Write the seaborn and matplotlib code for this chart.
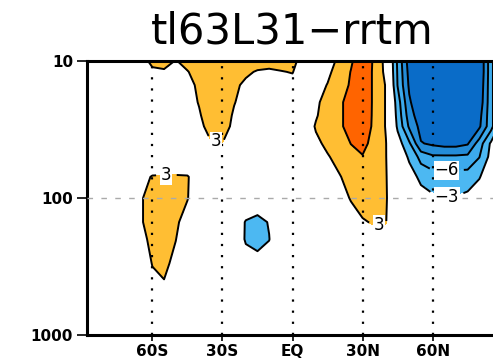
import numpy as np
import matplotlib
matplotlib.use("Agg")
import matplotlib.pyplot as plt
from matplotlib.ticker import NullLocator
import seaborn as sns

# zonal-mean difference (tl63L31 minus rrtm)
lats = [-90, -85, -80, -75, -70, -65, -60, -55, -50, -45, -40, -35, -30,
        -25, -20, -15, -10, -5, 0, 5, 10, 15, 20, 25, 30, 35, 40, 45, 50,
        55, 60, 65, 70, 75, 80, 85, 90]
levs = [10, 12, 15, 20, 25, 30, 40, 50, 70, 100, 150, 200, 300, 400, 500, 700, 1000]

diff = [
    [0, 0, 0, 0.5, 1, 2, 3.6, 3.8, 2.9, 3.6, 4.5, 5, 5, 4.5, 4.2, 4, 3.9, 3.8, 3.6, 2, 1, 2, 3.5, 5.6, 8, 5.6, 2, -6.5, -13.5, -16, -18, -19, -19, -18, -15, -7, -1],
    [0, 0, 0, 0.5, 1, 1, 2.5, 2.7, 2.5, 2.9, 3.8, 4.5, 4.8, 4, 3.4, 2.8, 2.6, 2.9, 3.1, 1.5, 1.5, 2.5, 4, 6.1, 8, 5.5, 2.2, -6.3, -13, -16, -18, -19, -19, -18, -15, -7, -1],
    [0, 0, 0, 0, 0.5, 1, 1.5, 2, 2, 2.5, 3.3, 4.3, 4.6, 3.5, 2.5, 2.2, 2, 2, 2.2, 1.5, 2, 3.1, 4.8, 6.3, 8, 5.5, 2.8, -6.1, -12.5, -15.5, -17.5, -18.5, -18.5, -17.5, -14.5, -7, -1],
    [0, 0, 0, 0, 0, 0.5, 1, 1.5, 1.8, 2.3, 3.1, 4.2, 4.5, 3.1, 2.2, 2, 1.8, 1.5, 1.5, 1, 2.5, 4, 5.5, 7, 8, 5.5, 2.8, -4.5, -11.5, -15, -17, -18, -18, -17, -14, -7, -1],
    [0, 0, 0, 0, 0, 0.5, 1, 1, 1.5, 2, 2.8, 4, 4.2, 2.7, 2, 1.5, 1.5, 1.5, 1.5, 1.5, 2.8, 4, 5.5, 7, 7.8, 5.5, 2.8, -4, -10.5, -14, -16, -17, -17, -16, -13, -7, -1],
    [0, 0, 0, 0, 0, 0, 0.5, 1, 1, 1.5, 2.5, 3.7, 3.9, 2.5, 1.5, 1, 1, 1, 1, 1.5, 3.2, 4, 5.5, 7, 7.5, 5.5, 2.8, -3.5, -9.5, -13, -15, -16, -16, -15, -12.5, -7, -1],
    [0, 0, 0, 0, 0, 0, 0.5, 0.5, 1, 1, 1.5, 2.8, 2.95, 2, 1, 0.5, 0.5, 0.5, 0.5, 1, 2.5, 3.5, 4.5, 6.05, 7, 4.8, 3.1, -1.5, -5.5, -11.8, -12.5, -13, -13, -12.3, -7.5, -2.5, 0],
    [0, 0, 0, 0, 0, 0.5, 0.5, 0.5, 0.5, 0.5, 1, 2, 2, 1.5, 0.5, 0, 0, 0, 0, 0.5, 1.5, 2.8, 3.8, 5, 5.8, 4.5, 3.1, -0.5, -3.5, -7, -8.5, -8.5, -8.5, -8.3, -6.1, -2, 0],
    [0, 0, 0, 0, 0.5, 2, 3.2, 3.3, 3.3, 3.2, 1.5, 1, 1, 0.5, 0, 0, 0, 0, 0, 0, 0.5, 1.5, 2.8, 4, 4.5, 4.2, 3.2, 0, -1.5, -3.8, -4.5, -4.6, -4.6, -4.5, -3.2, -1, 0],
    [0, 0, 0, 0, 1, 2.8, 3.8, 4, 3.8, 3.1, 1.5, 0.5, 0, 0, 0, -1, -0.5, 0, 0, 0, 0, 0.5, 1.8, 3.2, 3.8, 4, 3.3, 0, -0.5, -1.5, -2.5, -2.9, -2.8, -2.2, -1, 0, 0],
    [0, 0, 0, 0, 1, 2.8, 3.8, 4, 3.4, 2, 1, 0.5, 0, 0, -3.3, -4, -2.8, 0, 0, 0, 0, 0, 0.5, 1.5, 2.8, 3.2, 3.1, 0, 0, 0, 0, 0, 0, 0, 0, 0, 0],
    [0, 0, 0, 0, 0.5, 2.4, 3.5, 3.8, 3.05, 1.5, 0.5, 0, 0, 0, -3.4, -4.2, -3.1, 0, 0, 0, 0, 0, 0, 0.5, 1.5, 2, 2, 0, 0, 0, 0, 0, 0, 0, 0, 0, 0],
    [0, 0, 0, 0, 0, 1.5, 3.1, 3.6, 2.3, 1, 0, 0, 0, 0, -1, -1.5, -1, 0, 0, 0, 0, 0, 0, 0, 0, 0, 0, 0, 0, 0, 0, 0, 0, 0, 0, 0, 0],
    [0, 0, 0, 0, 0, 1, 2.5, 2.95, 2, 0.5, 0, 0, 0, 0, 0, 0, 0, 0, 0, 0, 0, 0, 0, 0, 0, 0, 0, 0, 0, 0, 0, 0, 0, 0, 0, 0, 0],
    [0, 0, 0, 0, 0, 0.5, 1, 1.5, 1, 0, 0, 0, 0, 0, 0, 0, 0, 0, 0, 0, 0, 0, 0, 0, 0, 0, 0, 0, 0, 0, 0, 0, 0, 0, 0, 0, 0],
    [0, 0, 0, 0, 0, 0, 0, 0, 0, 0, 0, 0, 0, 0, 0, 0, 0, 0, 0, 0, 0, 0, 0, 0, 0, 0, 0, 0, 0, 0, 0, 0, 0, 0, 0, 0, 0],
    [0, 0, 0, 0, 0, 0, 0, 0, 0, 0, 0, 0, 0, 0, 0, 0, 0, 0, 0, 0, 0, 0, 0, 0, 0, 0, 0, 0, 0, 0, 0, 0, 0, 0, 0, 0, 0],
]

fill_levels = [-40, -12, -9, -6, -3, 3, 6, 40]
fill_hex = ["#0a6cc8", "#248cd8", "#3caaec", "#4cb8f2", "#ffffff", "#ffbe33", "#ff6400"]
plain_lines = [-12, -9, 6]
labelled_neg = [-6, -3]
labelled_pos = [3]

xtick_vals = [-60, -30, 0, 30, 60]
xtick_text = ["60S", "30S", "EQ", "30N", "60N"]
ytick_vals = [10, 100, 1000]
ytick_text = ["10", "100", "1000"]
title = "tl63L31\u2212rrtm"

sns.set_theme(style="ticks")
plt.rcParams["font.family"] = ["DejaVu Sans"]
plt.rcParams["text.color"] = "black"
plt.rcParams["xtick.color"] = "black"
plt.rcParams["ytick.color"] = "black"

fig = plt.figure(figsize=(4.93, 3.6), dpi=100)
ax = fig.add_axes([87 / 493, 25 / 360, 411 / 493, 274 / 360])

X, P = np.meshgrid(lats, levs)
Z = np.array(diff)

ax.contourf(X, P, Z, levels=fill_levels, colors=sns.color_palette(fill_hex), zorder=1)
line_kw = dict(colors="black", linewidths=1.4, linestyles="solid", zorder=2)
ax.contour(X, P, Z, levels=plain_lines, **line_kw)
cs_neg = ax.contour(X, P, Z, levels=labelled_neg, **line_kw)
cs_pos = ax.contour(X, P, Z, levels=labelled_pos, **line_kw)

ax.set_yscale("log")
ax.set_ylim(1000, 10)
ax.set_xlim(-88, 88)

# dotted meridians, dashed 100 hPa line
for lon in xtick_vals:
    ax.axvline(lon, color="black", lw=1.6, ls=(0, (1, 4)), zorder=3)
ax.axhline(100, color="#aaaaaa", lw=1.0, ls=(0, (4, 6)), zorder=3)


def fmt(v):
    return f"{v:.0f}".replace("-", "\u2212")


labs = list(cs_pos.clabel(fmt=fmt, fontsize=12, inline=True,
                          manual=[(-33, 40), (-54, 68), (37, 160)]))
labs += list(cs_neg.clabel(fmt=fmt, fontsize=12, inline=True,
                           manual=[(66, 62), (66, 97)]))
for t in labs:
    t.set_rotation(0)
    t.set_color("black")
    t.set_bbox(dict(facecolor="white", edgecolor="none", pad=0.5))
    t.set_zorder(5)

ax.set_xticks(xtick_vals, xtick_text)
ax.set_yticks(ytick_vals, ytick_text)
ax.yaxis.set_minor_locator(NullLocator())
ax.tick_params(axis="x", direction="out", length=4, width=1.2, pad=2.5,
               labelsize=11, colors="black")
ax.tick_params(axis="y", direction="out", length=7, width=1.2, pad=3,
               labelsize=11, colors="black")
for lab in ax.get_xticklabels() + ax.get_yticklabels():
    lab.set_fontweight("bold")
for s in ax.spines.values():
    s.set_visible(True)
    s.set_linewidth(2.2)
    s.set_color("black")

fig.text(292 / 493, 1 - 43 / 360, title, ha="center", va="baseline",
         fontsize=30, color="black")

fig.savefig("out.png", dpi=100)
